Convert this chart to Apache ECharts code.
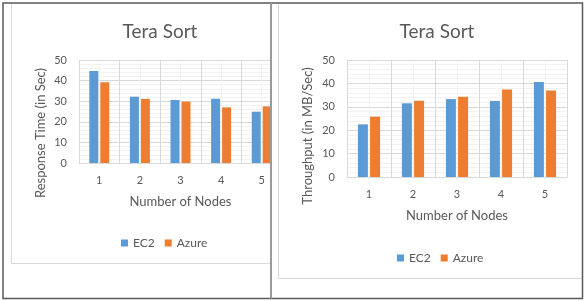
<!DOCTYPE html>
<html>
<head>
<meta charset="utf-8">
<script src="https://cdn.jsdelivr.net/npm/echarts@6/dist/echarts.min.js"></script>
<style>
  html, body { margin: 0; padding: 0; background: #fff; }
  #chart { width: 584px; height: 301px; }
</style>
</head>
<body>
<div id="chart"></div>
<script>
const nodes = ['1', '2', '3', '4', '5'];
const seriesNames = ['EC2', 'Azure'];
// response time (sec)
const timeEc2 = [44.7, 32.2, 30.6, 31.2, 24.9];
const timeAzure = [39.2, 31.1, 29.8, 27.0, 27.5];
// throughput (MB/sec)
const tputEc2 = [22.5, 31.5, 33.3, 32.5, 40.6];
const tputAzure = [25.8, 32.6, 34.3, 37.4, 37.0];

const TXT = '#595959';
const FONT = 'Lato, "Open Sans", sans-serif';
const MAJOR = '#d9d9d9';
const MINOR = '#f2f2f2';
const colors = ['#5b9bd5', '#ed7d31'];

const chart = echarts.init(document.getElementById('chart'));

const catAxis = (gridIndex) => ({
  type: 'category',
  gridIndex,
  data: nodes,
  boundaryGap: true,
  name: 'Number of Nodes',
  nameLocation: 'middle',
  nameGap: 32,
  nameTextStyle: { color: TXT, fontSize: 13, fontFamily: FONT },
  axisLine: { lineStyle: { color: MAJOR } },
  axisTick: { show: false },
  axisLabel: { color: TXT, fontSize: 11, fontFamily: FONT, margin: 12 },
  splitLine: { show: false }
});

// helper axis only for the vertical grid lines (major at category edges, minor at centres)
const gridXAxis = (gridIndex) => ({
  type: 'value',
  gridIndex,
  min: 0,
  max: 5,
  interval: 1,
  axisLine: { show: false },
  axisTick: { show: false },
  axisLabel: { show: false },
  minorTick: { show: false, splitNumber: 2 },
  splitLine: { show: true, lineStyle: { color: MAJOR } },
  minorSplitLine: { show: true, lineStyle: { color: MINOR } }
});

const valAxis = (gridIndex) => ({
  type: 'value',
  gridIndex,
  min: 0,
  max: 50,
  interval: 10,
  axisLine: { show: false },
  axisTick: { show: false },
  axisLabel: { color: TXT, fontSize: 11, fontFamily: FONT, margin: 12 },
  minorTick: { show: false, splitNumber: 5 },
  splitLine: { lineStyle: { color: MAJOR } },
  minorSplitLine: { show: true, lineStyle: { color: MINOR } }
});

const bar = (name, data, idx, xi, yi, w) => ({
  name,
  type: 'bar',
  xAxisIndex: xi,
  yAxisIndex: yi,
  data,
  barWidth: w,
  barGap: '22%',
  itemStyle: { color: colors[idx] },
  z: 3
});

const legendBase = {
  data: seriesNames,
  orient: 'horizontal',
  itemWidth: 7,
  itemHeight: 7,
  itemGap: 10,
  icon: 'rect',
  textStyle: { color: TXT, fontSize: 12, fontFamily: FONT }
};

chart.setOption({
  backgroundColor: '#fff',
  animation: false,
  title: [
    { text: 'Tera Sort', left: 155, top: 17, textAlign: 'center',
      textStyle: { color: TXT, fontSize: 19, fontWeight: 'normal', fontFamily: FONT } },
    { text: 'Tera Sort', left: 432, top: 17, textAlign: 'center',
      textStyle: { color: TXT, fontSize: 19, fontWeight: 'normal', fontFamily: FONT } }
  ],
  legend: [
    Object.assign({}, legendBase, { left: 116, top: 232 }),
    Object.assign({}, legendBase, { left: 392, top: 247 })
  ],
  grid: [
    { left: 79, top: 60, width: 203, height: 103 },
    { left: 347, top: 60, width: 220, height: 117 }
  ],
  xAxis: [catAxis(0), catAxis(1), gridXAxis(0), gridXAxis(1)],
  yAxis: [valAxis(0), valAxis(1)],
  series: [
    bar('EC2', timeEc2, 0, 0, 0, 9),
    bar('Azure', timeAzure, 1, 0, 0, 9),
    bar('EC2', tputEc2, 0, 1, 1, 10),
    bar('Azure', tputAzure, 1, 1, 1, 10)
  ],
  graphic: [
    // left panel is cut off at the divider
    { type: 'rect', z: 100, shape: { x: 270, y: 30, width: 13, height: 180 }, style: { fill: '#fff' } },
    // light inner chart frames
    { type: 'polyline', z: 101, shape: { points: [[11.5, 3], [11.5, 263.5], [270, 263.5]] },
      style: { stroke: MAJOR, lineWidth: 1, fill: null } },
    { type: 'polyline', z: 101, shape: { points: [[278.5, 3], [278.5, 278.5], [582, 278.5]] },
      style: { stroke: MAJOR, lineWidth: 1, fill: null } },
    // outer border and divider
    { type: 'rect', z: 102, shape: { x: 3, y: 3, width: 579.5, height: 295.5 },
      style: { stroke: '#5a5a5a', lineWidth: 1.5, fill: null } },
    { type: 'line', z: 102, shape: { x1: 271, y1: 3, x2: 271, y2: 298.5 },
      style: { stroke: '#9a9a9a', lineWidth: 2 } },
    // y axis names
    { type: 'text', z: 101, x: 41, y: 133, rotation: Math.PI / 2,
      style: { text: 'Response Time (in Sec)', fill: TXT, fontSize: 13, fontFamily: FONT,
        align: 'center', verticalAlign: 'middle' } },
    { type: 'text', z: 101, x: 308, y: 136, rotation: Math.PI / 2,
      style: { text: 'Throughput (in MB/Sec)', fill: TXT, fontSize: 13, fontFamily: FONT,
        align: 'center', verticalAlign: 'middle' } }
  ]
});
</script>
</body>
</html>
